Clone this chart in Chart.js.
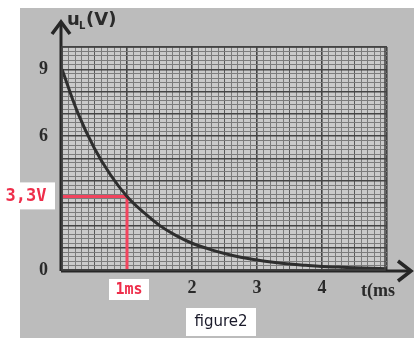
<!DOCTYPE html>
<html>
<head>
<meta charset="utf-8">
<script src="https://cdn.jsdelivr.net/npm/chart.js@4"></script>
<style>
  html, body { margin: 0; padding: 0; background: #fff; }
  #wrap { width: 414px; height: 338px; }
</style>
</head>
<body>
<div id="wrap"><canvas id="grafico"></canvas></div>
<script>
// valeurs (t en ms, uL en V)
const temps = [0, 0.25, 0.5, 0.75, 1, 1.25, 1.5, 1.75, 2, 2.25, 2.5, 2.75, 3, 3.25, 3.5, 3.75, 4, 4.25, 4.5, 4.75, 5];
const tension = [9.0, 7.0, 5.45, 4.25, 3.3, 2.6, 2.0, 1.55, 1.2, 0.95, 0.74, 0.57, 0.45, 0.35, 0.27, 0.21, 0.16, 0.13, 0.1, 0.08, 0.06];
// repere rouge : 3,3 V a 1 ms
const repereT = [0, 1, 1];
const repereU = [3.3, 3.3, 0];
const ticksX = [2, 3, 4];
const ticksY = [0, 3, 6, 9];

const estEntier = v => Math.abs(v - Math.round(v)) < 1e-6;
const estDemi = v => Math.abs(v * 2 - Math.round(v * 2)) < 1e-6;

const fond = {
    id: 'fond',
    beforeDraw(chart) {
        const ctx = chart.ctx, a = chart.chartArea;
        ctx.save();
        ctx.fillStyle = '#ffffff';
        ctx.fillRect(0, 0, chart.width, chart.height);
        ctx.fillStyle = '#bcbcbc';
        ctx.fillRect(20, 8, chart.width - 20, chart.height - 8);
        ctx.fillStyle = '#cbcbcb';
        ctx.fillRect(a.left, a.top, a.right - a.left, a.bottom - a.top);
        ctx.restore();
    },
    afterDraw(chart) {
        const ctx = chart.ctx, a = chart.chartArea;
        const sx = chart.scales.x, sy = chart.scales.y;
        ctx.save();
        // axes avec fleches
        ctx.strokeStyle = '#262626';
        ctx.lineWidth = 3;
        ctx.beginPath();
        ctx.moveTo(a.left - 1, a.bottom + 1);
        ctx.lineTo(a.left - 1, 24);
        ctx.moveTo(a.left - 1, a.bottom + 1);
        ctx.lineTo(408, a.bottom + 1);
        ctx.stroke();
        ctx.lineWidth = 3.5;
        ctx.beginPath();
        ctx.moveTo(a.left - 10, 34);
        ctx.lineTo(a.left - 1, 22);
        ctx.lineTo(a.left + 8, 34);
        ctx.moveTo(398, a.bottom - 9);
        ctx.lineTo(411, a.bottom + 1);
        ctx.lineTo(398, a.bottom + 11);
        ctx.stroke();
        // bord du quadrillage
        ctx.lineWidth = 1.5;
        ctx.strokeStyle = '#444';
        ctx.strokeRect(a.left, a.top, a.right - a.left - 2, a.bottom - a.top);

        // titres des axes
        ctx.fillStyle = '#2a2a2a';
        ctx.font = 'bold 18px "DejaVu Sans"';
        ctx.textBaseline = 'alphabetic';
        ctx.fillText('u', 67, 25);
        ctx.font = 'bold 10px "DejaVu Sans"';
        ctx.fillText('L', 79, 29);
        ctx.font = 'bold 18px "DejaVu Sans"';
        ctx.fillText('(V)', 86, 25);
        ctx.font = 'bold 18px "Liberation Serif"';
        ctx.fillText('t(ms', 361, 296);

        // etiquettes rouges
        const y33 = sy.getPixelForValue(3.3), x1 = sx.getPixelForValue(1);
        ctx.fillStyle = '#ffffff';
        ctx.fillRect(0, y33 - 14, 55, 27);
        ctx.fillRect(x1 - 18, a.bottom + 9, 40, 21);
        ctx.fillStyle = '#ee2d4a';
        ctx.textAlign = 'center';
        ctx.textBaseline = 'middle';
        ctx.font = 'bold 17px "DejaVu Sans Mono"';
        ctx.fillText('3,3V', 26, y33);
        ctx.font = 'bold 15px "DejaVu Sans Mono"';
        ctx.fillText('1ms', x1 + 2, a.bottom + 20);

        // legende
        ctx.fillStyle = '#ffffff';
        ctx.fillRect(186, 308, 70, 28);
        ctx.fillStyle = '#1a1a2a';
        ctx.font = '15px "DejaVu Sans"';
        ctx.fillText('figure2', 221, 322);
        ctx.restore();
    }
};

new Chart(document.getElementById('grafico'), {
    type: 'line',
    data: {
        datasets: [{
            label: 'uL',
            data: temps.map((t, i) => ({ x: t, y: tension[i] })),
            borderColor: '#2e2e2e',
            borderWidth: 3,
            pointRadius: 0,
            tension: 0.4,
            fill: false
        }, {
            label: 'repere',
            data: repereT.map((t, i) => ({ x: t, y: repereU[i] })),
            borderColor: '#f2445e',
            borderWidth: 3,
            pointRadius: 0,
            tension: 0,
            fill: false
        }]
    },
    options: {
        responsive: true,
        maintainAspectRatio: false,
        animation: false,
        layout: { padding: { left: 0, right: 27, top: 47, bottom: 0 } },
        plugins: { legend: { display: false }, tooltip: { enabled: false } },
        scales: {
            x: {
                type: 'linear',
                min: 0,
                max: 5,
                afterFit: s => { s.height = 68; },
                afterBuildTicks: s => {
                    s.ticks = Array.from({ length: 51 }, (_, i) => ({ value: i / 10 }));
                },
                border: { display: false },
                grid: {
                    drawTicks: false,
                    color: c => estEntier(c.tick.value) ? '#444' : (estDemi(c.tick.value) ? '#595959' : '#7c7c7c'),
                    lineWidth: c => estEntier(c.tick.value) ? 1.6 : 1
                },
                ticks: {
                    autoSkip: false,
                    maxRotation: 0,
                    padding: 8,
                    color: '#2a2a2a',
                    font: { family: 'Liberation Serif', size: 18, weight: 'bold' },
                    callback: v => ticksX.some(t => Math.abs(t - v) < 1e-6) ? String(Math.round(v)) : ''
                }
            },
            y: {
                type: 'linear',
                min: 0,
                max: 10,
                afterFit: s => { s.width = 62; },
                afterBuildTicks: s => {
                    s.ticks = Array.from({ length: 51 }, (_, i) => ({ value: i / 5 }));
                },
                border: { display: false },
                grid: {
                    drawTicks: false,
                    color: c => estEntier(c.tick.value) ? '#444' : '#7c7c7c',
                    lineWidth: c => estEntier(c.tick.value) ? 1.6 : 1
                },
                ticks: {
                    autoSkip: false,
                    padding: 14,
                    color: '#2a2a2a',
                    font: { family: 'Liberation Serif', size: 18, weight: 'bold' },
                    callback: v => ticksY.some(t => Math.abs(t - v) < 1e-6) ? String(Math.round(v)) : ''
                }
            }
        }
    },
    plugins: [fond]
});
</script>
</body>
</html>
